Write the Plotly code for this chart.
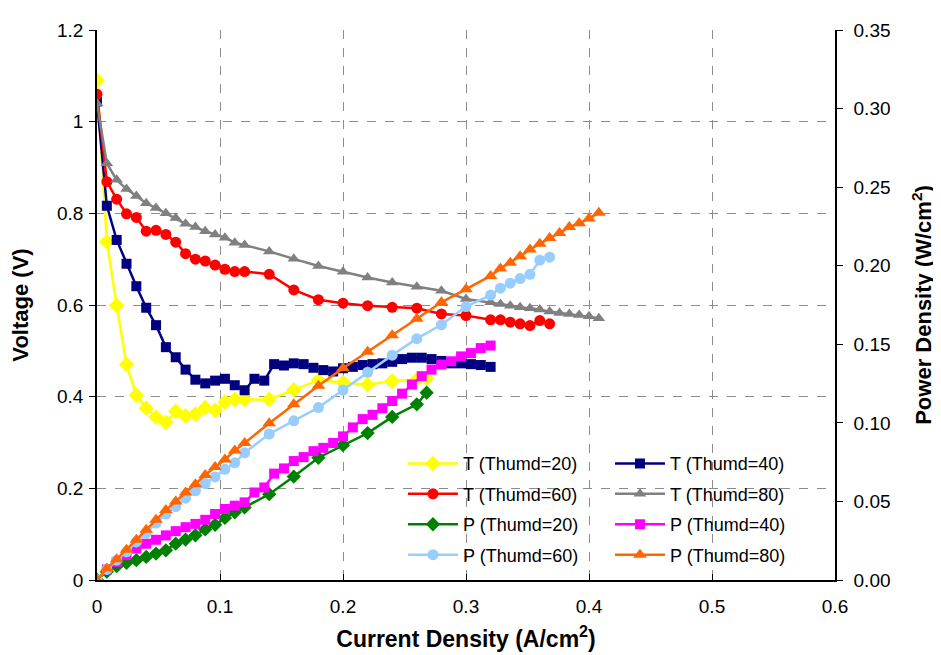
import plotly.graph_objects as go

# ---------------- data ----------------
x_t20 = [0, 0.008, 0.016, 0.024, 0.032, 0.04, 0.048, 0.056, 0.064, 0.072, 0.08, 0.088, 0.096, 0.104,
         0.112, 0.12, 0.14, 0.16, 0.18, 0.2, 0.22, 0.24, 0.26, 0.268]
v_t20 = [1.09, 0.738, 0.599, 0.47, 0.403, 0.375, 0.355, 0.344, 0.368, 0.358, 0.362, 0.376, 0.37, 0.388,
         0.394, 0.394, 0.394, 0.415, 0.436, 0.431, 0.426, 0.434, 0.437, 0.44]

x_t40 = [0, 0.008, 0.016, 0.024, 0.032, 0.04, 0.048, 0.056, 0.064, 0.072, 0.08, 0.088, 0.096, 0.104,
         0.112, 0.12, 0.128, 0.136, 0.144, 0.152, 0.16, 0.168, 0.176, 0.184, 0.192, 0.2, 0.208, 0.216,
         0.224, 0.232, 0.24, 0.248, 0.256, 0.264, 0.272, 0.28, 0.288, 0.296, 0.304, 0.312, 0.32]
v_t40 = [1.044, 0.8165, 0.742, 0.69, 0.641, 0.594, 0.556, 0.508, 0.486, 0.459, 0.437, 0.429, 0.435, 0.439,
         0.425, 0.414, 0.439, 0.435, 0.471, 0.468, 0.4727, 0.471, 0.463, 0.458, 0.455, 0.462, 0.465, 0.469,
         0.471, 0.4727, 0.476, 0.482, 0.485, 0.485, 0.482, 0.478, 0.4727, 0.4727, 0.471, 0.469, 0.465]

x_t60 = [0, 0.008, 0.016, 0.024, 0.032, 0.04, 0.048, 0.056, 0.064, 0.072, 0.08, 0.088, 0.096, 0.104,
         0.112, 0.12, 0.14, 0.16, 0.18, 0.2, 0.22, 0.24, 0.26, 0.28, 0.3,
         0.32, 0.328, 0.336, 0.344, 0.352, 0.36, 0.368]
v_t60 = [1.06, 0.869, 0.831, 0.799, 0.791, 0.761, 0.763, 0.754, 0.737, 0.712, 0.70, 0.696, 0.687, 0.678,
         0.673, 0.673, 0.667, 0.633, 0.6115, 0.604, 0.5986, 0.595, 0.593, 0.5806, 0.577,
         0.5676, 0.5676, 0.5626, 0.559, 0.555, 0.566, 0.559]

x_t80 = [0, 0.008, 0.016, 0.024, 0.032, 0.04, 0.048, 0.056, 0.064, 0.072, 0.08, 0.088, 0.096, 0.104,
         0.112, 0.12, 0.14, 0.16, 0.18, 0.2, 0.22, 0.24, 0.26, 0.28, 0.3,
         0.32, 0.328, 0.336, 0.344, 0.352, 0.36, 0.368, 0.376, 0.384, 0.392, 0.4, 0.408]
v_t80 = [1.04, 0.909, 0.873, 0.853, 0.838, 0.822, 0.8115, 0.80, 0.79, 0.777, 0.77, 0.761, 0.754, 0.747,
         0.736, 0.731, 0.717, 0.7007, 0.685, 0.6727, 0.66, 0.649, 0.640, 0.631, 0.613,
         0.6058, 0.602, 0.5986, 0.595, 0.593, 0.590, 0.5856, 0.5827, 0.5806, 0.5784, 0.5755, 0.571]

x_p20 = [0, 0.008, 0.016, 0.024, 0.032, 0.04, 0.048, 0.056, 0.064, 0.072, 0.08, 0.088, 0.096, 0.104,
         0.112, 0.12, 0.14, 0.16, 0.18, 0.2, 0.22, 0.24, 0.26, 0.268]
p_p20 = [0, 0.0053, 0.0088, 0.0109, 0.0126, 0.0147, 0.0168, 0.0189, 0.0231, 0.0257, 0.0284, 0.0322,
         0.0351, 0.0395, 0.0431, 0.0462, 0.0546, 0.0658, 0.0778, 0.0858, 0.0935, 0.1038, 0.1118, 0.1192]

x_p40 = x_t40
p_p40 = [0, 0.0067, 0.01156, 0.0158, 0.02, 0.0231, 0.0256, 0.0284, 0.0311, 0.0336, 0.0357, 0.0383,
         0.042, 0.0452, 0.0473, 0.0494, 0.0557, 0.0589, 0.0677, 0.071, 0.0757, 0.0782, 0.082, 0.0841,
         0.0872, 0.0914, 0.0971, 0.1024, 0.1051, 0.1093, 0.1139, 0.1186, 0.1244, 0.1297, 0.1339,
         0.1371, 0.1392, 0.1423, 0.1444, 0.1476, 0.1492]

x_p60 = x_t60
p_p60 = [0, 0.0067, 0.0126, 0.0179, 0.0242, 0.0298, 0.0362, 0.042, 0.0467, 0.0521, 0.0568, 0.0614,
         0.0656, 0.0704, 0.0746, 0.0809, 0.0929, 0.1013, 0.1097, 0.1209, 0.1322, 0.1431, 0.1536,
         0.1624, 0.174, 0.1813, 0.1857, 0.1889, 0.1918, 0.1945, 0.2035, 0.2054]

x_p80 = x_t80
p_p80 = [0, 0.00736, 0.01324, 0.0193, 0.0256, 0.0319, 0.0383, 0.0446, 0.050, 0.0557, 0.061, 0.0668,
         0.0719, 0.0767, 0.0824, 0.0872, 0.0998, 0.1118, 0.1236, 0.1347, 0.1452, 0.1557, 0.1662,
         0.1767, 0.1851, 0.1935, 0.1983, 0.2019, 0.206, 0.2103, 0.214, 0.2176, 0.2208, 0.2246,
         0.227, 0.230, 0.2337]

x_ticks = [0, 0.1, 0.2, 0.3, 0.4, 0.5, 0.6]
v_ticks = [0, 0.2, 0.4, 0.6, 0.8, 1.0, 1.2]
p_ticks = [0, 0.05, 0.10, 0.15, 0.20, 0.25, 0.30, 0.35]

FONT = "Liberation Sans, Arial, sans-serif"

fig = go.Figure()

def add(x, y, name, color, symbol, size, yaxis, legend):
    fig.add_trace(go.Scatter(
        x=x, y=y, name=name, mode="lines+markers", yaxis=yaxis, legend=legend,
        legendgroup=name,
        line=dict(color=color, width=2.5),
        marker=dict(color=color, symbol=symbol, size=size, line=dict(width=0)),
    ))

add(x_t20, v_t20, "T (Thumd=20)", "#FFFF00", "diamond", 12, "y", "legend")
add(x_t40, v_t40, "T (Thumd=40)", "#000080", "square", 10, "y", "legend2")
add(x_t60, v_t60, "T (Thumd=60)", "#FF0000", "circle", 11, "y", "legend")
add(x_t80, v_t80, "T (Thumd=80)", "#808080", "triangle-up", 11, "y", "legend2")
add(x_p20, p_p20, "P (Thumd=20)", "#008000", "diamond", 11, "y2", "legend")
add(x_p40, p_p40, "P (Thumd=40)", "#FF00FF", "square", 10, "y2", "legend2")
add(x_p60, p_p60, "P (Thumd=60)", "#99CCFF", "circle", 11, "y2", "legend")
add(x_p80, p_p80, "P (Thumd=80)", "#FF6600", "triangle-up", 12, "y2", "legend2")

tickfont = dict(family=FONT, size=19, color="black")
titlefont = dict(family=FONT, size=22, color="black")
xtitlefont = dict(family=FONT, size=23, color="black")
grid = dict(showgrid=True, gridcolor="#8c8c8c", gridwidth=1, griddash="dash")

legend_common = dict(
    orientation="v", xanchor="left", yanchor="top",
    bgcolor="rgba(255,255,255,0)", borderwidth=0,
    font=dict(family=FONT, size=18, color="black"),
    itemwidth=50, tracegroupgap=4,
)

fig.update_layout(
    width=941, height=655,
    margin=dict(l=89, r=114, t=12, b=83),
    paper_bgcolor="white", plot_bgcolor="white",
    font=dict(family=FONT, color="black"),
    xaxis=dict(
        range=[0, 0.6], tickvals=x_ticks, ticktext=[f"{v:g}" for v in x_ticks],
        showline=True, linecolor="black", linewidth=1.5,
        ticks="inside", ticklen=6, tickcolor="black",
        tickfont=tickfont, zeroline=False, ticklabelstandoff=8,
        title=dict(text="<b>Current Density (A/cm<sup>2</sup>)</b>", font=xtitlefont, standoff=15),
        **grid,
    ),
    yaxis=dict(
        range=[0, 1.2], tickvals=v_ticks, ticktext=[f"{v:g}" for v in v_ticks],
        showline=True, linecolor="black", linewidth=1.5,
        ticks="outside", ticklen=6, tickcolor="black",
        tickfont=tickfont, zeroline=False, ticklabelstandoff=2,
        title=dict(text="<b>Voltage (V)</b>", font=titlefont, standoff=22),
        **grid,
    ),
    yaxis2=dict(
        range=[0, 0.35], tickvals=p_ticks, ticktext=[f"{v:.2f}" for v in p_ticks],
        overlaying="y", side="right", showgrid=False, zeroline=False,
        showline=True, linecolor="black", linewidth=1.5,
        ticks="outside", ticklen=6, tickcolor="black",
        tickfont=tickfont, ticklabelstandoff=7,
        title=dict(text="<b>Power Density (W/cm<sup>2</sup>)</b>", font=titlefont, standoff=26),
    ),
    legend=dict(x=0.4146, y=0.245, **legend_common),
    legend2=dict(x=0.6951, y=0.245, **legend_common),
)

fig.write_html("out.html")
